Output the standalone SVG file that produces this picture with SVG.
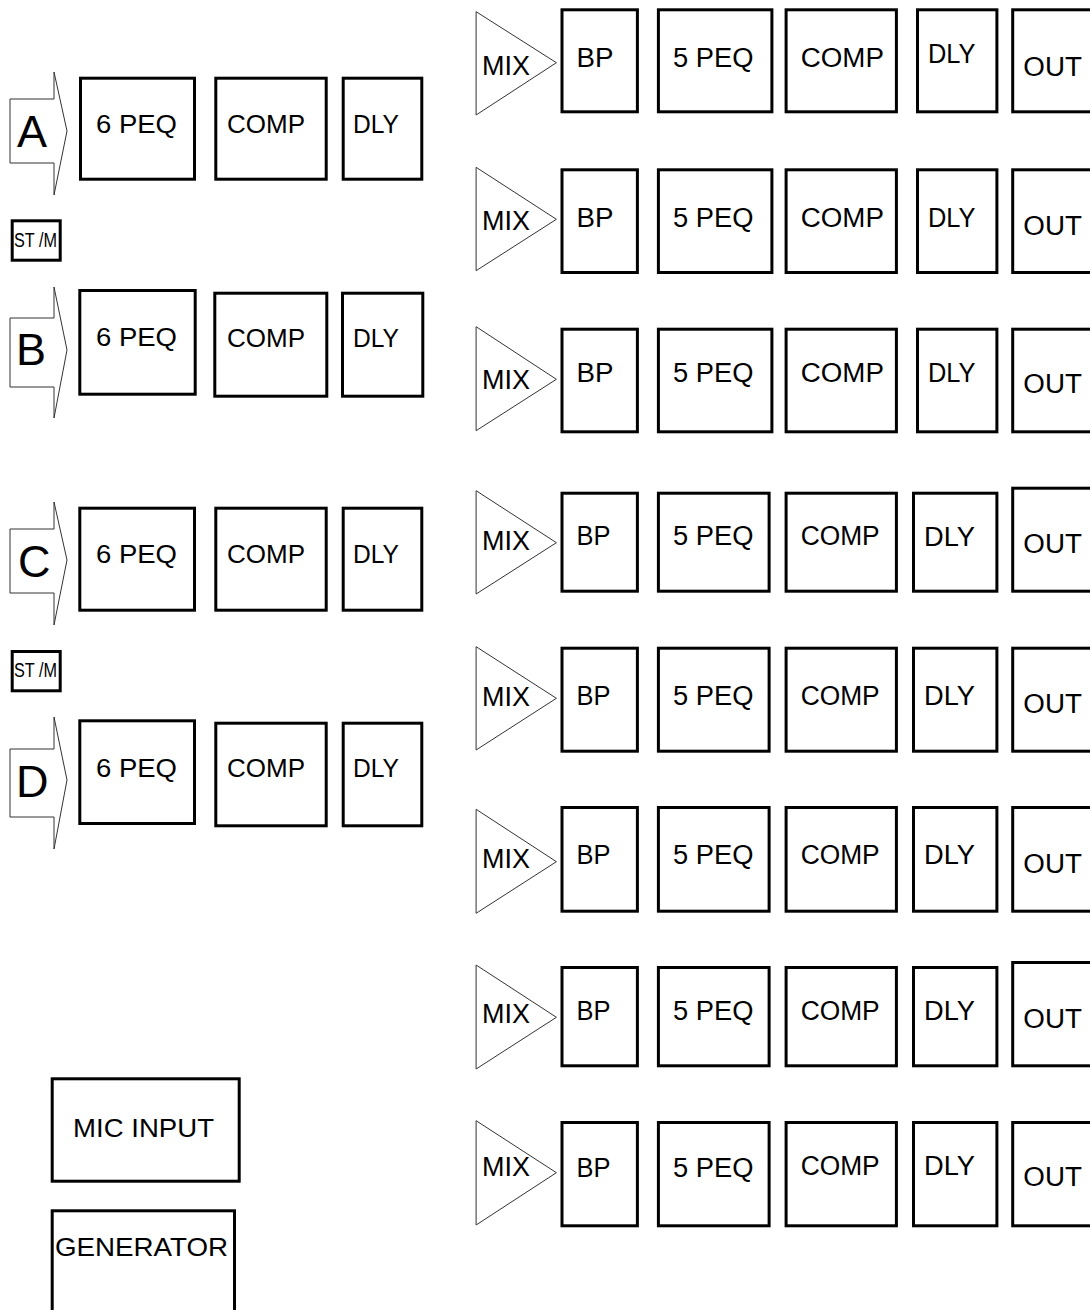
<svg xmlns="http://www.w3.org/2000/svg" width="1090" height="1310" viewBox="0 0 1090 1310">
<style>
.b{fill:#fff;stroke:#000;stroke-width:3}
.a{fill:#fff;stroke:#333;stroke-width:1}
.t{font-family:"Liberation Sans",Arial,sans-serif;font-size:26px;fill:#000}
.r{font-family:"Liberation Sans",Arial,sans-serif;font-size:27px;fill:#000}
.big{font-family:"Liberation Sans",Arial,sans-serif;font-size:45px;fill:#000}
.s{font-family:"Liberation Sans",Arial,sans-serif;font-size:20px;fill:#000}
</style>
<rect width="1090" height="1310" fill="#fff"/>
<g id="connectors"></g>

<!-- Left inputs -->
<g id="inA">
<polygon class="a" points="10,99 54,99 54,72 67,131 54,195 54,163 10,163"/>
<text class="big" x="17" y="147">A</text>
</g>
<g id="peqA"><rect class="b" x="80.5" y="78.2" width="114" height="101"/><text class="t" x="96" y="133" textLength="81" lengthAdjust="spacingAndGlyphs">6 PEQ</text></g>
<g id="compA"><rect class="b" x="215.8" y="78.2" width="110.4" height="101"/><text class="t" x="227" y="133" textLength="78" lengthAdjust="spacingAndGlyphs">COMP</text></g>
<g id="dlyA"><rect class="b" x="343.2" y="78.2" width="78.6" height="101"/><text class="t" x="353" y="133" textLength="46" lengthAdjust="spacingAndGlyphs">DLY</text></g>

<g id="stm1"><rect class="b" x="12.2" y="220.8" width="48" height="39.4"/><text class="s" x="14" y="247" textLength="43" lengthAdjust="spacingAndGlyphs">ST /M</text></g>

<g id="inB">
<polygon class="a" points="10,318 54,318 54,287 67,350 54,418 54,387 10,387"/>
<text class="big" x="16" y="365">B</text>
</g>
<g id="peqB"><rect class="b" x="79.8" y="290.5" width="115.4" height="103.7"/><text class="t" x="96" y="346" textLength="81" lengthAdjust="spacingAndGlyphs">6 PEQ</text></g>
<g id="compB"><rect class="b" x="214.8" y="293.2" width="112" height="103"/><text class="t" x="227" y="346.7" textLength="78" lengthAdjust="spacingAndGlyphs">COMP</text></g>
<g id="dlyB"><rect class="b" x="342.5" y="293.2" width="80.3" height="103"/><text class="t" x="353" y="346.7" textLength="46" lengthAdjust="spacingAndGlyphs">DLY</text></g>

<g id="inC">
<polygon class="a" points="10,529 54,529 54,502 67,560 54,625 54,593 10,593"/>
<text class="big" x="18" y="577">C</text>
</g>
<g id="peqC"><rect class="b" x="79.8" y="508.2" width="114.7" height="102"/><text class="t" x="96" y="563.3" textLength="81" lengthAdjust="spacingAndGlyphs">6 PEQ</text></g>
<g id="compC"><rect class="b" x="215.8" y="508.2" width="110.4" height="102"/><text class="t" x="227" y="563.3" textLength="78" lengthAdjust="spacingAndGlyphs">COMP</text></g>
<g id="dlyC"><rect class="b" x="343.2" y="508.2" width="78.6" height="102"/><text class="t" x="353" y="563.3" textLength="46" lengthAdjust="spacingAndGlyphs">DLY</text></g>

<g id="stm2"><rect class="b" x="12.2" y="651.5" width="48" height="39.3"/><text class="s" x="14" y="677.3" textLength="43" lengthAdjust="spacingAndGlyphs">ST /M</text></g>

<g id="inD">
<polygon class="a" points="10,749 54,749 54,717 67,780 54,849 54,817 10,817"/>
<text class="big" x="16" y="797">D</text>
</g>
<g id="peqD"><rect class="b" x="79.8" y="720.8" width="114.7" height="102.7"/><text class="t" x="96" y="777.3" textLength="81" lengthAdjust="spacingAndGlyphs">6 PEQ</text></g>
<g id="compD"><rect class="b" x="215.8" y="723.2" width="110.4" height="102.6"/><text class="t" x="227" y="777.3" textLength="78" lengthAdjust="spacingAndGlyphs">COMP</text></g>
<g id="dlyD"><rect class="b" x="343.2" y="723.2" width="78.6" height="102.6"/><text class="t" x="353" y="777.3" textLength="46" lengthAdjust="spacingAndGlyphs">DLY</text></g>

<g id="micInput"><rect class="b" x="52.2" y="1078.8" width="187" height="102.4"/><text class="t" x="73" y="1137" font-size="27" textLength="141" lengthAdjust="spacingAndGlyphs">MIC INPUT</text></g>
<g id="generator"><rect class="b" x="52.2" y="1210.8" width="182.3" height="120"/><text class="t" x="55" y="1256" font-size="27" textLength="173" lengthAdjust="spacingAndGlyphs">GENERATOR</text></g>

<!-- Right outputs -->
<g id="out1">
<polygon class="a" points="476.1,11.7 556.4,62.7 476.1,115"/>
<text class="r" x="482" y="75" textLength="48" lengthAdjust="spacingAndGlyphs">MIX</text>
<rect class="b" x="562" y="9.8" width="75.4" height="102"/><text class="r" x="576.5" y="66.7" textLength="37" lengthAdjust="spacingAndGlyphs">BP</text>
<rect class="b" x="658.4" y="9.8" width="113.5" height="102"/><text class="r" x="673" y="66.7" textLength="80.4" lengthAdjust="spacingAndGlyphs">5 PEQ</text>
<rect class="b" x="786.1" y="9.8" width="110.3" height="102"/><text class="r" x="800.7" y="66.7" textLength="83.2" lengthAdjust="spacingAndGlyphs">COMP</text>
<rect class="b" x="917.5" y="9.8" width="79.4" height="102"/><text class="r" x="928" y="62.7" textLength="47.5" lengthAdjust="spacingAndGlyphs">DLY</text>
<rect class="b" x="1012.7" y="9.8" width="200" height="102"/><text class="r" x="1023.3" y="75.5" textLength="58.6" lengthAdjust="spacingAndGlyphs">OUT</text>
</g>
<g id="out2">
<polygon class="a" points="476.1,167.3 556.4,219.3 476.1,270.7"/>
<text class="r" x="482" y="230" textLength="48" lengthAdjust="spacingAndGlyphs">MIX</text>
<rect class="b" x="562" y="169.8" width="75.4" height="102.7"/><text class="r" x="576.5" y="226.7" textLength="37" lengthAdjust="spacingAndGlyphs">BP</text>
<rect class="b" x="658.4" y="169.8" width="113.5" height="102.7"/><text class="r" x="673" y="226.7" textLength="80.4" lengthAdjust="spacingAndGlyphs">5 PEQ</text>
<rect class="b" x="786.1" y="169.8" width="110.3" height="102.7"/><text class="r" x="800.7" y="226.7" textLength="83.2" lengthAdjust="spacingAndGlyphs">COMP</text>
<rect class="b" x="917.5" y="169.8" width="79.4" height="102.7"/><text class="r" x="928" y="226.7" textLength="47.5" lengthAdjust="spacingAndGlyphs">DLY</text>
<rect class="b" x="1012.7" y="169.8" width="200" height="102.7"/><text class="r" x="1023.3" y="235" textLength="58.6" lengthAdjust="spacingAndGlyphs">OUT</text>
</g>
<g id="out3">
<polygon class="a" points="476.1,326.7 556.4,379.3 476.1,430.7"/>
<text class="r" x="482" y="389.3" textLength="48" lengthAdjust="spacingAndGlyphs">MIX</text>
<rect class="b" x="562" y="329.2" width="75.4" height="102.6"/><text class="r" x="576.5" y="381.7" textLength="37" lengthAdjust="spacingAndGlyphs">BP</text>
<rect class="b" x="658.4" y="329.2" width="113.5" height="102.6"/><text class="r" x="673" y="381.7" textLength="80.4" lengthAdjust="spacingAndGlyphs">5 PEQ</text>
<rect class="b" x="786.1" y="329.2" width="110.3" height="102.6"/><text class="r" x="800.7" y="381.7" textLength="83.2" lengthAdjust="spacingAndGlyphs">COMP</text>
<rect class="b" x="917.5" y="329.2" width="79.4" height="102.6"/><text class="r" x="928" y="381.7" textLength="47.5" lengthAdjust="spacingAndGlyphs">DLY</text>
<rect class="b" x="1012.7" y="329.2" width="200" height="102.6"/><text class="r" x="1023.3" y="393.3" textLength="58.6" lengthAdjust="spacingAndGlyphs">OUT</text>
</g>
<g id="out4">
<polygon class="a" points="476.1,490.7 556.4,542.7 476.1,594"/>
<text class="r" x="482" y="550" textLength="48" lengthAdjust="spacingAndGlyphs">MIX</text>
<rect class="b" x="562" y="493.2" width="75.4" height="98"/><text class="r" x="576.5" y="545" textLength="34" lengthAdjust="spacingAndGlyphs">BP</text>
<rect class="b" x="658.4" y="493.2" width="110.7" height="98"/><text class="r" x="673" y="545" textLength="80.4" lengthAdjust="spacingAndGlyphs">5 PEQ</text>
<rect class="b" x="786.1" y="493.2" width="110.3" height="98"/><text class="r" x="800.7" y="545" textLength="79" lengthAdjust="spacingAndGlyphs">COMP</text>
<rect class="b" x="913.5" y="493.2" width="83.4" height="98"/><text class="r" x="924" y="546" textLength="51" lengthAdjust="spacingAndGlyphs">DLY</text>
<rect class="b" x="1012.7" y="488.2" width="200" height="103"/><text class="r" x="1023.3" y="553.3" textLength="58.6" lengthAdjust="spacingAndGlyphs">OUT</text>
</g>
<g id="out5">
<polygon class="a" points="476.1,646.7 556.4,698.3 476.1,750"/>
<text class="r" x="482" y="706" textLength="48" lengthAdjust="spacingAndGlyphs">MIX</text>
<rect class="b" x="562" y="648.2" width="75.4" height="103"/><text class="r" x="576.5" y="705" textLength="34" lengthAdjust="spacingAndGlyphs">BP</text>
<rect class="b" x="658.4" y="648.2" width="110.7" height="103"/><text class="r" x="673" y="705" textLength="80.4" lengthAdjust="spacingAndGlyphs">5 PEQ</text>
<rect class="b" x="786.1" y="648.2" width="110.3" height="103"/><text class="r" x="800.7" y="705" textLength="79" lengthAdjust="spacingAndGlyphs">COMP</text>
<rect class="b" x="913.5" y="648.2" width="83.4" height="103"/><text class="r" x="924" y="705" textLength="51" lengthAdjust="spacingAndGlyphs">DLY</text>
<rect class="b" x="1012.7" y="648.2" width="200" height="103"/><text class="r" x="1023.3" y="712.7" textLength="58.6" lengthAdjust="spacingAndGlyphs">OUT</text>
</g>
<g id="out6">
<polygon class="a" points="476.1,809.3 556.4,861.7 476.1,913.3"/>
<text class="r" x="482" y="868.3" textLength="48" lengthAdjust="spacingAndGlyphs">MIX</text>
<rect class="b" x="562" y="807.5" width="75.4" height="103.7"/><text class="r" x="576.5" y="864" textLength="34" lengthAdjust="spacingAndGlyphs">BP</text>
<rect class="b" x="658.4" y="807.5" width="110.7" height="103.7"/><text class="r" x="673" y="864" textLength="80.4" lengthAdjust="spacingAndGlyphs">5 PEQ</text>
<rect class="b" x="786.1" y="807.5" width="110.3" height="103.7"/><text class="r" x="800.7" y="864" textLength="79" lengthAdjust="spacingAndGlyphs">COMP</text>
<rect class="b" x="913.5" y="807.5" width="83.4" height="103.7"/><text class="r" x="924" y="864" textLength="51" lengthAdjust="spacingAndGlyphs">DLY</text>
<rect class="b" x="1012.7" y="807.5" width="200" height="103.7"/><text class="r" x="1023.3" y="872.7" textLength="58.6" lengthAdjust="spacingAndGlyphs">OUT</text>
</g>
<g id="out7">
<polygon class="a" points="476.1,965 556.4,1017.3 476.1,1069"/>
<text class="r" x="482" y="1023.3" textLength="48" lengthAdjust="spacingAndGlyphs">MIX</text>
<rect class="b" x="562" y="967.5" width="75.4" height="98.3"/><text class="r" x="576.5" y="1020" textLength="34" lengthAdjust="spacingAndGlyphs">BP</text>
<rect class="b" x="658.4" y="967.5" width="110.7" height="98.3"/><text class="r" x="673" y="1020" textLength="80.4" lengthAdjust="spacingAndGlyphs">5 PEQ</text>
<rect class="b" x="786.1" y="967.5" width="110.3" height="98.3"/><text class="r" x="800.7" y="1020" textLength="79" lengthAdjust="spacingAndGlyphs">COMP</text>
<rect class="b" x="913.5" y="967.5" width="83.4" height="98.3"/><text class="r" x="924" y="1020" textLength="51" lengthAdjust="spacingAndGlyphs">DLY</text>
<rect class="b" x="1012.7" y="962.5" width="200" height="103.3"/><text class="r" x="1023.3" y="1028.3" textLength="58.6" lengthAdjust="spacingAndGlyphs">OUT</text>
</g>
<g id="out8">
<polygon class="a" points="476.1,1120.7 556.4,1172.7 476.1,1225"/>
<text class="r" x="482" y="1176" textLength="48" lengthAdjust="spacingAndGlyphs">MIX</text>
<rect class="b" x="562" y="1122.5" width="75.4" height="103.3"/><text class="r" x="576.5" y="1176.7" textLength="34" lengthAdjust="spacingAndGlyphs">BP</text>
<rect class="b" x="658.4" y="1122.5" width="110.7" height="103.3"/><text class="r" x="673" y="1176.7" textLength="80.4" lengthAdjust="spacingAndGlyphs">5 PEQ</text>
<rect class="b" x="786.1" y="1122.5" width="110.3" height="103.3"/><text class="r" x="800.7" y="1175" textLength="79" lengthAdjust="spacingAndGlyphs">COMP</text>
<rect class="b" x="913.5" y="1122.5" width="83.4" height="103.3"/><text class="r" x="924" y="1175" textLength="51" lengthAdjust="spacingAndGlyphs">DLY</text>
<rect class="b" x="1012.7" y="1122.5" width="200" height="103.3"/><text class="r" x="1023.3" y="1186" textLength="58.6" lengthAdjust="spacingAndGlyphs">OUT</text>
</g>
</svg>
